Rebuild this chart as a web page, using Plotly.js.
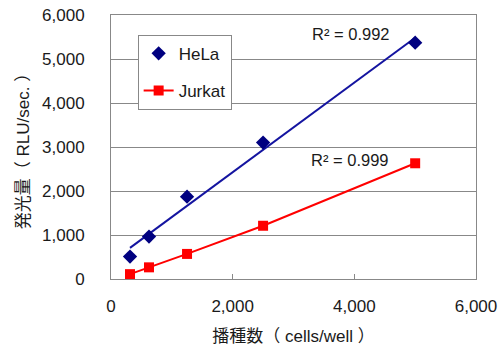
<!DOCTYPE html>
<html>
<head>
<meta charset="utf-8">
<script src="https://cdn.plot.ly/plotly-3.0.1.min.js"></script>
<style>html,body{margin:0;padding:0;background:#fff;}#chart{width:500px;height:347px;}</style>
</head>
<body>
<div id="chart"></div>
<script>
// Data
const cellsPerWell = [312.5, 625, 1250, 2500, 5000];
const helaRLU = [510, 965, 1870, 3100, 5370];
const jurkatRLU = [110, 265, 570, 1210, 2630];
const seriesNames = ["HeLa", "Jurkat"];
const r2Labels = ["R² = 0.992", "R² = 0.999"];
const xTickVals = [0, 2000, 4000, 6000];
const yTickVals = [0, 1000, 2000, 3000, 4000, 5000, 6000];

// Least-squares trendline for HeLa (as in the spreadsheet chart)
function linFit(xs, ys) {
  const n = xs.length;
  const mx = xs.reduce((a, b) => a + b, 0) / n;
  const my = ys.reduce((a, b) => a + b, 0) / n;
  let sxy = 0, sxx = 0;
  for (let i = 0; i < n; i++) { sxy += (xs[i] - mx) * (ys[i] - my); sxx += (xs[i] - mx) ** 2; }
  const m = sxy / sxx;
  return { m: m, b: my - m * mx };
}
const fit = linFit(cellsPerWell, helaRLU);
const trendX = [cellsPerWell[0], cellsPerWell[cellsPerWell.length - 1]];
const trendY = trendX.map(x => fit.m * x + fit.b);

const FONT = "Liberation Sans, Arial, Noto Sans CJK JP, sans-serif";
const fmt = v => v.toLocaleString("en-US");

const traces = [
  {
    x: trendX, y: trendY, mode: "lines", showlegend: false, hoverinfo: "skip",
    line: { color: "#1414a0", width: 2 }
  },
  {
    x: cellsPerWell, y: helaRLU, mode: "markers", name: seriesNames[0],
    legendgroup: "a",
    marker: { symbol: "diamond", size: 11, color: "#000080" }
  },
  {
    x: cellsPerWell, y: jurkatRLU, mode: "lines+markers", name: seriesNames[1],
    legendgroup: "b",
    line: { color: "#ff0000", width: 2 },
    marker: { symbol: "square", size: 10, color: "#ff0000" }
  }
];

const layout = {
  width: 500, height: 347,
  margin: { l: 111, r: 24, t: 15, b: 68 },
  paper_bgcolor: "#fff", plot_bgcolor: "#fff",
  font: { family: FONT, size: 17, color: "#1a1a1a" },
  showlegend: true,
  legend: {
    x: 0.073, y: 0.925, xanchor: "left", yanchor: "top",
    bgcolor: "#fff", bordercolor: "#888", borderwidth: 1,
    font: { family: FONT, size: 17, color: "#1a1a1a" },
    traceorder: "grouped", tracegroupgap: 12, itemwidth: 30
  },
  xaxis: {
    range: [0, 6000], tickvals: xTickVals, ticktext: xTickVals.map(fmt),
    showgrid: false, zeroline: false,
    showline: true, linecolor: "#888", linewidth: 1, mirror: true,
    ticks: "inside", ticklen: 5, tickcolor: "#888",
    ticklabelstandoff: 12,
    tickfont: { family: FONT, size: 17, color: "#1a1a1a" },
    title: { text: "播種数（ cells/well ）", font: { family: FONT, size: 17, color: "#1a1a1a" }, standoff: 14 }
  },
  yaxis: {
    range: [0, 6000], tickvals: yTickVals, ticktext: yTickVals.map(fmt),
    showgrid: true, gridcolor: "#888", gridwidth: 1, zeroline: false,
    showline: true, linecolor: "#888", linewidth: 1, mirror: true,
    ticks: "", ticklabelstandoff: 22,
    tickfont: { family: FONT, size: 17, color: "#1a1a1a" },
    title: { text: "発光量（ RLU/sec. ）", font: { family: FONT, size: 17, color: "#1a1a1a" }, standoff: 8 }
  },
  annotations: [
    { x: 3950, y: 5560, xref: "x", yref: "y", text: r2Labels[0], showarrow: false,
      font: { family: FONT, size: 16.5, color: "#1a1a1a" } },
    { x: 3930, y: 2700, xref: "x", yref: "y", text: r2Labels[1], showarrow: false,
      font: { family: FONT, size: 16.5, color: "#1a1a1a" } }
  ]
};

Plotly.newPlot("chart", traces, layout, { staticPlot: true, displayModeBar: false });
</script>
</body>
</html>
